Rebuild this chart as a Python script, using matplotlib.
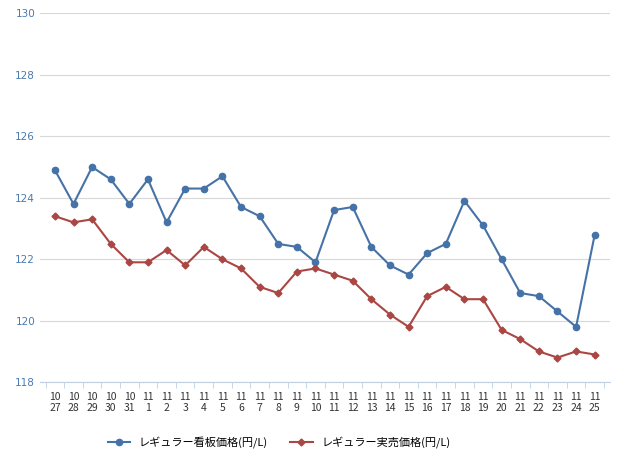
import matplotlib
matplotlib.use("Agg")
import matplotlib.pyplot as plt
import numpy as np

months = ["10"]*5 + ["11"]*25
days = [27,28,29,30,31] + list(range(1,26))
board = [124.9,123.8,125.0,124.6,123.8,124.6,123.2,124.3,124.3,124.7,123.7,123.4,122.5,122.4,121.9,
         123.6,123.7,122.4,121.8,121.5,122.2,122.5,123.9,123.1,122.0,120.9,120.8,120.3,119.8,122.8]
actual = [123.4,123.2,123.3,122.5,121.9,121.9,122.3,121.8,122.4,122.0,121.7,121.1,120.9,121.6,121.7,
          121.5,121.3,120.7,120.2,119.8,120.8,121.1,120.7,120.7,119.7,119.4,119.0,118.8,119.0,118.9]
labels = [f"{m}\n{d}" for m, d in zip(months, days)]

fig = plt.figure(figsize=(6.4, 4.61), dpi=100)
ax = fig.add_axes([0.0625, 0.171, 0.89, 0.80])
x = list(range(len(labels)))
ax.plot(x, board, color="#4572A7", marker="o", ms=4.5, lw=1.5, label="レギュラー看板価格(円/L)")
ax.plot(x, actual, color="#AA4643", marker="D", ms=3.5, lw=1.5, label="レギュラー実売価格(円/L)")
ax.set_xlim(-0.8, len(x) - 0.2)
ax.set_ylim(118, 130)
ax.set_yticks(range(118, 131, 2))
ax.set_xticks(x)
ax.set_xticks(np.arange(-0.5, len(x), 1), minor=True)
ax.set_xticklabels(labels, fontsize=7.5, color="#333333", fontfamily="Noto Sans CJK JP")
ax.tick_params(axis="y", labelsize=7.5, colors="#4a7ab0", length=0)
ax.tick_params(axis="x", which="major", length=0, pad=7)
ax.tick_params(axis="x", which="minor", length=4, color="#c0d0e0")
ax.grid(axis="y", color="#d8d8d8", lw=0.8)
for s in ["top", "right", "left"]:
    ax.spines[s].set_visible(False)
ax.spines["bottom"].set_color("#c0d0e0")
ax.legend(loc="upper center", bbox_to_anchor=(0.42, -0.12), ncol=2, frameon=False,
          prop={"family": "Noto Sans CJK JP", "size": 8})
fig.savefig("out.png", dpi=100)
